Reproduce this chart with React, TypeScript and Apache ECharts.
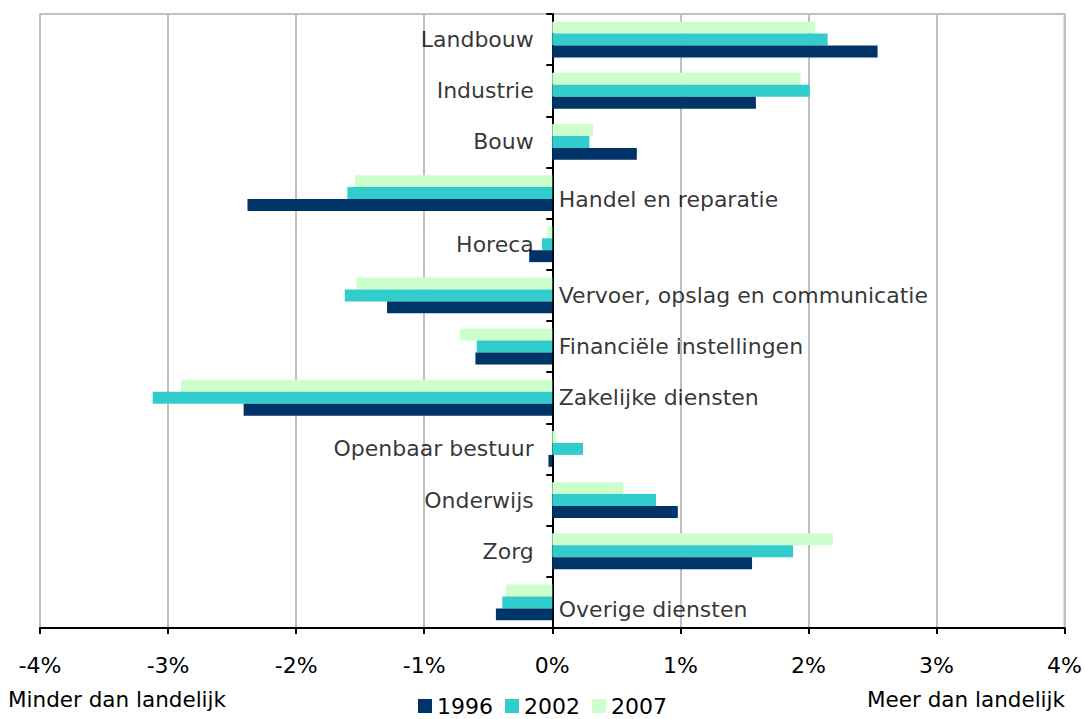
import React, { useEffect, useRef } from "react";
import * as echarts from "echarts";

const categories = [
  "Landbouw",
  "Industrie",
  "Bouw",
  "Handel en reparatie",
  "Horeca",
  "Vervoer, opslag en communicatie",
  "Financiële instellingen",
  "Zakelijke diensten",
  "Openbaar bestuur",
  "Onderwijs",
  "Zorg",
  "Overige diensten",
];

const values1996 = [2.54, 1.59, 0.66, -2.38, -0.18, -1.29, -0.6, -2.41, -0.03, 0.98, 1.56, -0.44];
const values2002 = [2.15, 2.01, 0.29, -1.6, -0.08, -1.62, -0.59, -3.12, 0.24, 0.81, 1.88, -0.39];
const values2007 = [2.05, 1.94, 0.32, -1.54, -0.04, -1.53, -0.72, -2.9, 0.03, 0.555, 2.19, -0.36];

// side of the zero axis where each category label sits
const labelSide = ["left", "left", "left", "right", "left", "right", "right", "right", "left", "left", "left", "right"];

const xTicks = { min: -4, max: 4, interval: 1 };
const legendOrder = ["1996", "2002", "2007"];

const FONT = "DejaVu Sans, Verdana, sans-serif";
const labelNudge: Record<string, number> = { "Handel en reparatie": 6, "Overige diensten": 7 };

export default function App() {
  const ref = useRef<HTMLDivElement>(null);

  useEffect(() => {
    if (!ref.current) return;
    const chart = echarts.init(ref.current, undefined, { renderer: "svg" });

    const barSeries = (name: string, data: number[], color: string) => ({
      name,
      type: "bar",
      data,
      barGap: "0%",
      barCategoryGap: "30%",
      itemStyle: { color },
      z: 2,
    });

    const labelData = categories.map((c, i) => ({
      value: [0, c],
      label: {
        position: labelSide[i],
        distance: labelSide[i] === "left" ? 18 : 6,
        offset: [0, labelNudge[c] || 0],
      },
    }));

    chart.setOption({
      animation: false,
      textStyle: { fontFamily: FONT },
      grid: {
        left: 40,
        right: 19,
        top: 14,
        bottom: 91,
        show: true,
        borderColor: "#c0c0c0",
        borderWidth: 2,
      },
      legend: {
        data: legendOrder,
        left: "center",
        top: 690,
        icon: "rect",
        itemWidth: 14,
        itemHeight: 14,
        itemGap: 12,
        textStyle: { fontSize: 22, lineHeight: 18, color: "#000", fontFamily: FONT },
      },
      xAxis: {
        type: "value",
        min: xTicks.min,
        max: xTicks.max,
        interval: xTicks.interval,
        axisLine: { show: true, lineStyle: { color: "#000", width: 2 } },
        axisTick: { show: true, length: 6, lineStyle: { color: "#000", width: 2 } },
        axisLabel: {
          formatter: "{value}%",
          fontSize: 22,
          color: "#000",
          margin: 26,
          fontFamily: FONT,
        },
        splitLine: { show: true, lineStyle: { color: "#c0c0c0", width: 2 } },
      },
      yAxis: {
        type: "category",
        data: categories,
        inverse: true,
        axisLine: { show: true, onZero: true, lineStyle: { color: "#000", width: 2 } },
        axisTick: { show: true, length: 6, lineStyle: { color: "#000", width: 2 } },
        axisLabel: { show: false },
        splitLine: { show: false },
      },
      graphic: [
        {
          type: "text",
          left: 8,
          top: 688,
          style: { text: "Minder dan landelijk", fontSize: 21.5, fill: "#000", fontFamily: FONT },
        },
        {
          type: "text",
          right: 20,
          top: 688,
          style: { text: "Meer dan landelijk", fontSize: 21.5, fill: "#000", fontFamily: FONT },
        },
      ],
      series: [
        barSeries("2007", values2007, "#ccffcc"),
        barSeries("2002", values2002, "#33cccc"),
        barSeries("1996", values1996, "#003366"),
        {
          name: "labels",
          type: "scatter",
          data: labelData,
          symbolSize: 1,
          itemStyle: { color: "rgba(0,0,0,0)" },
          silent: true,
          z: 5,
          label: {
            show: true,
            formatter: (p: any) => p.value[1],
            fontSize: 22,
            color: "#000",
            fontFamily: FONT,
          },
        },
      ],
    });

    return () => chart.dispose();
  }, []);

  return (
    <div
      ref={ref}
      style={{ position: "fixed", left: 0, top: 0, width: 1085, height: 719, background: "#fff" }}
    />
  );
}
